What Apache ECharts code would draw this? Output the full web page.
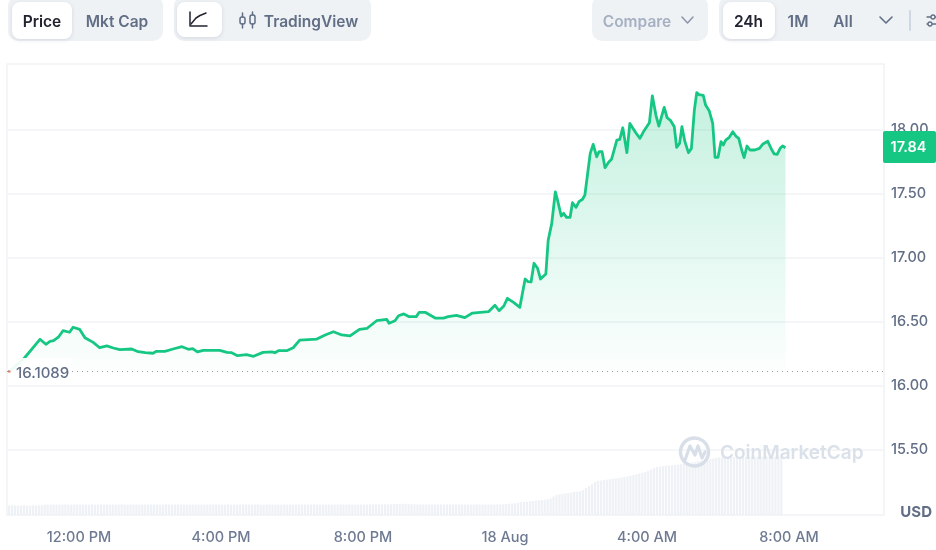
<!DOCTYPE html>
<html><head><meta charset="utf-8">
<style>html,body{margin:0;padding:0;background:#fff}#c{width:936px;height:550px}</style>
<script src="https://cdn.jsdelivr.net/npm/echarts@6/dist/echarts.min.js"></script>
</head><body><div id="c"></div>
<script>
// minutes after 00:00 on 17 Aug
const priceTimes=[602,626,654,664,671,677,685,693,704,710,721,730,744,755,767,778,789,809,820,832,845,851,865,879,894,905,912,920,930,958,970,978,988,1003,1015,1031,1046,1051,1057,1071,1082,1093,1122,1136,1150,1164,1178,1194,1207,1223,1240,1244,1254,1260,1269,1278,1290,1295,1305,1322,1336,1344,1358,1372,1385,1398,1412,1423,1430,1438,1444,1455,1458,1465,1474,1479,1484,1489,1495,1500,1509,1513,1519,1525,1528,1535,1539,1544,1550,1554,1560,1565,1571,1575,1584,1589,1595,1599,1604,1609,1615,1620,1629,1634,1639,1646,1651,1661,1668,1675,1684,1689,1695,1700,1709,1714,1720,1726,1730,1735,1739,1744,1750,1755,1760,1764,1768,1775,1779,1785,1791,1795,1800,1805,1809,1813,1819,1825,1830,1835,1840,1844,1849,1854,1862,1870,1876,1884,1891,1895,1900,1905,1909,1914];
const prices=[16.1089,16.205,16.361,16.322,16.345,16.350,16.377,16.428,16.416,16.455,16.439,16.373,16.337,16.295,16.309,16.293,16.280,16.285,16.264,16.256,16.252,16.267,16.267,16.285,16.303,16.283,16.288,16.262,16.275,16.275,16.259,16.256,16.233,16.241,16.228,16.259,16.262,16.256,16.272,16.272,16.295,16.355,16.363,16.395,16.420,16.395,16.387,16.439,16.447,16.506,16.517,16.486,16.506,16.545,16.559,16.538,16.538,16.572,16.572,16.527,16.527,16.538,16.548,16.530,16.566,16.572,16.577,16.627,16.584,16.621,16.681,16.647,16.652,16.611,16.832,16.811,16.809,16.955,16.916,16.832,16.871,17.137,17.267,17.512,17.462,17.324,17.345,17.314,17.314,17.428,17.392,17.436,17.455,17.488,17.814,17.884,17.787,17.827,17.827,17.702,17.744,17.767,17.918,17.923,18.014,17.819,18.048,17.975,17.931,17.991,18.053,18.262,18.113,18.027,18.173,18.092,18.069,18.022,17.861,17.892,18.022,17.905,17.819,17.853,18.152,18.288,18.272,18.267,18.191,18.147,18.048,17.783,17.783,17.905,17.879,17.918,17.939,17.983,17.949,17.931,17.840,17.780,17.871,17.840,17.840,17.853,17.887,17.908,17.840,17.809,17.806,17.853,17.871,17.858];
const volumeStart=602, volumeStep=5;
const volumes=[9.5,9.5,9.6,9.4,9.5,9.6,9.5,9.4,9.6,9.5,9.7,9.8,
10.4,10.5,10.4,10.6,10.5,10.5,10.4,10.6,10.5,10.4,10.5,10.6,10.5,10.4,10.5,10.5,10.6,10.4,10.5,10.5,10.4,10.6,10.5,10.5,10.4,10.5,10.6,10.5,10.4,10.5,10.5,10.6,10.4,10.5,10.5,10.6,10.4,10.5,
10.5,10.4,10.5,10.6,10.5,10.5,10.4,10.6,10.5,10.5,10.4,10.5,
10.5,10.4,10.6,10.5,10.5,10.4,10.5,10.6,10.5,10.4,10.5,10.5,10.6,10.4,10.5,10.5,10.4,10.6,10.5,10.5,10.4,10.5,10.6,10.5,10.4,10.5,10.5,10.6,10.4,10.5,10.5,10.6,10.4,10.5,10.5,10.4,10.6,10.5,10.5,10.4,10.5,10.6,10.5,10.4,10.5,10.5,10.6,10.4,10.5,10.5,
10.6,10.5,10.4,10.6,10.5,10.5,10.4,10.6,10.5,10.5,10.6,10.7,10.6,10.5,10.6,10.7,10.6,10.8,10.9,11.0,11.2,11.3,11.1,10.9,10.8,10.7,10.6,10.5,10.6,10.5,10.6,10.5,10.6,10.5,10.6,10.5,10.6,10.5,10.6,10.5,10.6,10.5,10.5,10.6,10.5,10.5,10.6,10.5,10.5,10.5,10.6,10.5,10.5,10.6,
10.6,10.7,10.9,11.2,11.5,11.8,12.2,
12.8,13.0,13.2,13.6,14.0,14.3,14.6,15.0,
15.3,15.6,16.5,18.5,20.0,
20.6,21.0,21.5,22.0,22.5,23.0,23.3,23.8,
25.0,27.0,29.0,31.0,33.0,
34.0,34.5,35.0,35.4,35.8,36.2,36.6,37.0,37.5,38.0,
38.6,39.2,40.0,40.8,41.5,42.2,43.0,
44.2,45.5,47.0,
48.0,48.4,48.8,49.2,49.5,49.8,50.0,
50.3,50.8,51.2,51.6,52.0,52.5,53.0,
53.8,54.3,54.8,55.3,55.8,56.5,57.2,
57.5,57.6,57.8,57.7,57.9,58.0,58.1,57.9,58.2,58.1,58.3,58.2,58.3,58.4,58.3,58.4,58.5,58.4,58.5,58.4,58.5,58.5];
const yTicks=[15.5,16,16.5,17,17.5,18];
const xTickValues=[720,960,1200,1440,1680,1920];
const xTickLabels=['12:00 PM','4:00 PM','8:00 PM','18 Aug','4:00 AM','8:00 AM'];
const openPrice=16.1089, lastPriceLabel='17.84', unitLabel='USD';
const watermark='CoinMarketCap';
const leftTabs=['Price','Mkt Cap'], chartTabs=['TradingView'], compareLabel='Compare', rangeTabs=['24h','1M','All'];

const FONT='Inter';
const txt=(x,y,s,color,size,weight,align)=>({type:'text',z:100,silent:true,style:{x,y,text:s,fill:color,font:`${weight||600} ${size||14}px ${FONT}`,align:align||'center',verticalAlign:'middle'}});
const rect=(x,y,w,h,r,fill,extra)=>({type:'rect',z:90,silent:true,shape:{x,y,width:w,height:h,r},style:Object.assign({fill},extra||{})});
const pline=(pts,stroke,lw)=>({type:'polyline',z:100,silent:true,shape:{points:pts},style:{fill:null,stroke,lineWidth:lw||1.6,lineJoin:'round',lineCap:'round'}});
const seg=(x1,y1,x2,y2,stroke,lw)=>({type:'line',z:100,silent:true,shape:{x1,y1,x2,y2},style:{stroke,lineWidth:lw||1.5,lineCap:'round'}});
const dot=(cx,cy,r,stroke)=>({type:'circle',z:101,silent:true,shape:{cx,cy,r},style:{fill:BG,stroke,lineWidth:1.3}});
const shadow={shadowBlur:4,shadowColor:'rgba(88,102,126,.18)',shadowOffsetY:1};
const BG='#eff2f5', DARK='#222531', MID='#616e85';
const TAB=15.5;

const graphics=[
 rect(8,-4,155,45,10,BG),
 rect(12,2,60,37,8,'#fff',shadow),
 txt(42,22,leftTabs[0],DARK,TAB,600),
 txt(117,22,leftTabs[1],MID,TAB,600),
 rect(174,-4,197,45,10,BG),
 rect(177,2,45,35,8,'#fff',shadow),
 pline([[190,12],[190,26],[207,26]],DARK,1.5),
 pline([[191,24],[196,18],[200,15.5],[206,13]],DARK,1.5),
 rect(240,17,5,7,2,BG,{stroke:MID,lineWidth:1.5}),
 seg(242.5,13,242.5,17,MID,1.5),seg(242.5,24,242.5,28,MID,1.5),
 rect(250,15,5,9,2,BG,{stroke:MID,lineWidth:1.5}),
 seg(252.5,12,252.5,15,MID,1.5),seg(252.5,24,252.5,28,MID,1.5),
 txt(311,22,chartTabs[0],MID,TAB,600),
 rect(592,-4,116,45,10,BG),
 txt(637,22,compareLabel,'#a6b0c3',TAB,600),
 pline([[682,17],[687.5,23],[693,17]],'#8d98ae',1.6),
 rect(719,-4,225,45,10,BG),
 rect(723,2,52,37,8,'#fff',shadow),
 txt(748.5,22,rangeTabs[0],DARK,TAB,600),
 txt(798,22,rangeTabs[1],MID,TAB,600),
 txt(843,22,rangeTabs[2],MID,TAB,600),
 pline([[880,17],[886,23],[892,17]],MID,1.6),
 seg(910,11,910,30,'#cfd6e4',2),
 seg(927,17,936,17,MID,1.4),seg(927,24,936,24,MID,1.4),
 dot(933,17,2,MID),dot(930,24,2,MID),
 // watermark
 {type:'arc',z:60,silent:true,shape:{cx:694.5,cy:452,r:14,startAngle:-0.2,endAngle:Math.PI*1.98},style:{fill:null,stroke:'#d8dfe9',lineWidth:3.4}},
 pline([[685,460],[690,446],[695,455],[698,446],[702,458],[705,452]],'#d8dfe9',3.2),
 Object.assign(txt(720,453,watermark,'#dbe1ea',19,600,'left'),{z:60}),
 // start value tag
 rect(9,358,63,26,2,'rgba(255,255,255,.92)'),
 rect(8,370.5,2.5,2,0,'#e0776f'),
 txt(16,373.5,openPrice.toFixed(4),MID,15,500,'left'),
 // last price box
 rect(883,131,53,32,2,'#16c784'),
 txt(908.5,147.5,lastPriceLabel,'#fff',14.5,600),
 txt(932,512,unitLabel,MID,15,700,'right')
];

const chart=echarts.init(document.getElementById('c'),null,{renderer:'canvas'});
chart.setOption({
 animation:false,
 backgroundColor:'#fff',
 grid:{left:7,right:52,top:64,bottom:35,show:true,borderColor:'#eff2f5',borderWidth:1.5,backgroundColor:'transparent'},
 xAxis:{type:'value',min:598.3,max:2080.5,
  axisLine:{show:false},axisTick:{show:false,customValues:xTickValues},splitLine:{show:false},
  axisLabel:{customValues:xTickValues,margin:15,color:'#6e7a92',fontFamily:FONT,fontSize:14.5,fontWeight:500,hideOverlap:false,
   formatter:v=>xTickLabels[xTickValues.indexOf(v)]}},
 yAxis:[{type:'value',position:'right',min:14.988,max:18.512,
   axisLine:{show:false},axisTick:{show:false,customValues:yTicks},
   splitLine:{show:true,lineStyle:{color:'#f1f3f5',width:1.5}},
   axisLabel:{customValues:yTicks,margin:7,color:MID,fontFamily:FONT,fontSize:14.5,fontWeight:500,formatter:v=>v.toFixed(2)}},
  {type:'value',min:0,max:451,show:false,splitLine:{show:false}}],
 series:[
  {type:'bar',yAxisIndex:1,barWidth:2.2,itemStyle:{color:'#eef1f5'},silent:true,z:1,
   data:volumes.map((v,i)=>[volumeStart+i*volumeStep,v])},
  {type:'line',showSymbol:false,z:3,silent:true,smooth:false,
   data:prices.map((p,i)=>[priceTimes[i],p]),
   lineStyle:{color:'#16c784',width:2.8,join:'round'},
   areaStyle:{origin:openPrice,color:new echarts.graphic.LinearGradient(0,0,0,1,[{offset:0,color:'rgba(22,199,132,.36)'},{offset:1,color:'rgba(22,199,132,.02)'}])},
   markLine:{silent:true,symbol:'none',animation:false,label:{show:false},
    lineStyle:{color:'#a09ca4',type:[1,4],width:1.2},data:[{yAxis:openPrice}]}}
 ],
 graphic:{elements:graphics}
});
</script></body></html>
